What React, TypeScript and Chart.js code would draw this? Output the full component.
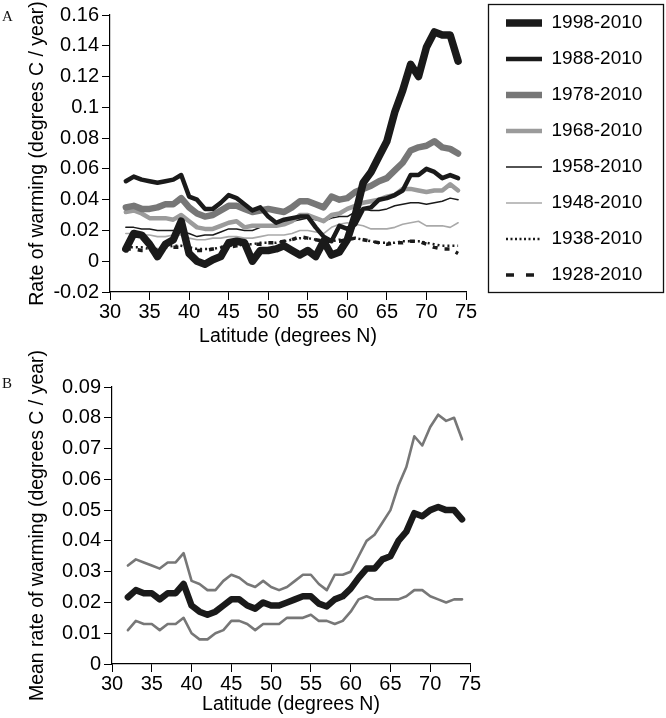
import React, { useEffect, useRef } from "react";
import { Chart, registerables } from "chart.js";

Chart.register(...registerables);

// ---------------- data ----------------
const latitudes = [
  32, 33, 34, 35, 36, 37, 38, 39, 40, 41,
  42, 43, 44, 45, 46, 47, 48, 49, 50, 51,
  52, 53, 54, 55, 56, 57, 58, 59, 60, 61,
  62, 63, 64, 65, 66, 67, 68, 69, 70, 71,
  72, 73, 74,
];

const seriesLabelsA = [
  "1998-2010", "1988-2010", "1978-2010", "1968-2010",
  "1958-2010", "1948-2010", "1938-2010", "1928-2010",
];

const rate1998 = [
  0.008, 0.018, 0.017, 0.011, 0.003, 0.011, 0.014, 0.026, 0.005, 0.000,
  -0.002, 0.001, 0.003, 0.012, 0.013, 0.012, 0.000, 0.007, 0.007, 0.008,
  0.010, 0.007, 0.004, 0.007, 0.003, 0.013, 0.004, 0.006, 0.014, 0.030,
  0.051, 0.058, 0.068, 0.078, 0.097, 0.111, 0.128, 0.120, 0.139, 0.149,
  0.147, 0.147, 0.130,
];
const rate1988 = [
  0.052, 0.055, 0.053, 0.052, 0.051, 0.052, 0.053, 0.056, 0.042, 0.040,
  0.034, 0.034, 0.038, 0.043, 0.041, 0.037, 0.033, 0.035, 0.029, 0.025,
  0.027, 0.028, 0.029, 0.029, 0.022, 0.016, 0.013, 0.023, 0.021, 0.024,
  0.034, 0.035, 0.040, 0.041, 0.043, 0.046, 0.056, 0.056, 0.060, 0.058,
  0.054, 0.056, 0.054,
];
const rate1978 = [
  0.035, 0.036, 0.034, 0.034, 0.035, 0.037, 0.037, 0.041, 0.035, 0.031,
  0.029, 0.030, 0.033, 0.036, 0.036, 0.034, 0.032, 0.033, 0.034, 0.033,
  0.032, 0.035, 0.039, 0.039, 0.037, 0.035, 0.042, 0.040, 0.041, 0.045,
  0.047, 0.049, 0.052, 0.054, 0.059, 0.064, 0.072, 0.074, 0.075, 0.078,
  0.074, 0.073, 0.070,
];
const rate1968 = [
  0.032, 0.033, 0.031, 0.028, 0.028, 0.028, 0.027, 0.030, 0.026, 0.022,
  0.021, 0.021, 0.023, 0.025, 0.026, 0.022, 0.023, 0.023, 0.023, 0.023,
  0.024, 0.026, 0.030, 0.030, 0.028, 0.026, 0.030, 0.031, 0.034, 0.036,
  0.038, 0.039, 0.040, 0.042, 0.043, 0.047, 0.047, 0.046, 0.045, 0.046,
  0.046, 0.050, 0.046,
];
const rate1958 = [
  0.022, 0.022, 0.021, 0.021, 0.020, 0.020, 0.020, 0.019, 0.018, 0.016,
  0.017, 0.017, 0.019, 0.021, 0.021, 0.020, 0.020, 0.022, 0.023, 0.023,
  0.024, 0.026, 0.027, 0.028, 0.027, 0.026, 0.028, 0.029, 0.029, 0.032,
  0.034, 0.033, 0.033, 0.034, 0.036, 0.037, 0.038, 0.038, 0.037, 0.038,
  0.039, 0.041, 0.040,
];
const rate1948 = [
  0.018, 0.018, 0.017, 0.017, 0.016, 0.016, 0.017, 0.017, 0.015, 0.014,
  0.014, 0.015, 0.015, 0.016, 0.016, 0.015, 0.015, 0.016, 0.017, 0.017,
  0.017, 0.018, 0.020, 0.020, 0.019, 0.018, 0.022, 0.024, 0.025, 0.024,
  0.023, 0.021, 0.021, 0.021, 0.022, 0.024, 0.025, 0.026, 0.023, 0.023,
  0.023, 0.022, 0.025,
];
const rate1938 = [
  0.009, 0.009, 0.009, 0.008, 0.008, 0.009, 0.010, 0.010, 0.009, 0.008,
  0.008, 0.008, 0.009, 0.010, 0.010, 0.011, 0.011, 0.012, 0.012, 0.012,
  0.013, 0.014, 0.015, 0.015, 0.014, 0.013, 0.013, 0.014, 0.014, 0.015,
  0.014, 0.013, 0.012, 0.012, 0.012, 0.013, 0.013, 0.013, 0.012, 0.011,
  0.010, 0.010, 0.010,
];
const rate1928 = [
  0.008, 0.008, 0.007, 0.007, 0.008, 0.009, 0.009, 0.009, 0.008, 0.007,
  0.007, 0.008, 0.009, 0.009, 0.010, 0.010, 0.011, 0.011, 0.012, 0.012,
  0.013, 0.014, 0.016, 0.015, 0.014, 0.013, 0.013, 0.013, 0.014, 0.015,
  0.014, 0.013, 0.012, 0.011, 0.012, 0.012, 0.013, 0.013, 0.011, 0.009,
  0.008, 0.008, 0.005,
];

const meanRate = [
  0.0217, 0.024, 0.023, 0.023, 0.021, 0.023, 0.023, 0.026, 0.019, 0.017,
  0.016, 0.017, 0.019, 0.021, 0.021, 0.019, 0.018, 0.020, 0.019, 0.019,
  0.020, 0.021, 0.022, 0.022, 0.0196, 0.0187, 0.021, 0.022, 0.0245, 0.028,
  0.031, 0.031, 0.034, 0.035, 0.040, 0.043, 0.049, 0.048, 0.050, 0.051,
  0.050, 0.050, 0.047,
];
const meanUpper = [
  0.032, 0.034, 0.033, 0.032, 0.031, 0.033, 0.033, 0.036, 0.027, 0.026,
  0.024, 0.024, 0.027, 0.029, 0.028, 0.026, 0.025, 0.027, 0.025, 0.024,
  0.025, 0.027, 0.029, 0.029, 0.026, 0.024, 0.029, 0.029, 0.030, 0.035,
  0.040, 0.042, 0.046, 0.050, 0.058, 0.064, 0.074, 0.071, 0.077, 0.081,
  0.079, 0.080, 0.073,
];
const meanLower = [
  0.011, 0.014, 0.013, 0.013, 0.011, 0.013, 0.013, 0.015, 0.010, 0.008,
  0.008, 0.010, 0.011, 0.014, 0.014, 0.013, 0.011, 0.013, 0.013, 0.013,
  0.015, 0.015, 0.015, 0.016, 0.014, 0.014, 0.013, 0.014, 0.017, 0.021,
  0.022, 0.021, 0.021, 0.021, 0.021, 0.022, 0.024, 0.024, 0.022, 0.021,
  0.020, 0.021, 0.021,
];

const xTicks = [30, 35, 40, 45, 50, 55, 60, 65, 70, 75];
const yTicksA = [-0.02, 0, 0.02, 0.04, 0.06, 0.08, 0.1, 0.12, 0.14, 0.16];
const yTicksB = [0, 0.01, 0.02, 0.03, 0.04, 0.05, 0.06, 0.07, 0.08, 0.09];

// ---------------- styles ----------------
const FONT_FAMILY = "'Liberation Sans', Arial, Helvetica, sans-serif";
const FONT = { family: FONT_FAMILY, size: 19 };
const TICK_FONT = { family: FONT_FAMILY, size: 20 };
const TITLE_FONT = { family: FONT_FAMILY, size: 19.5 };
const INK = "#1a1a1a";

const stylesA = [
  { color: INK, width: 7.5, dash: [] as number[], legendDash: [] as number[] },
  { color: INK, width: 4.5, dash: [] as number[], legendDash: [] as number[] },
  { color: "#777777", width: 6.5, dash: [] as number[], legendDash: [] as number[] },
  { color: "#9b9b9b", width: 4.5, dash: [] as number[], legendDash: [] as number[] },
  { color: INK, width: 1.5, dash: [] as number[], legendDash: [] as number[] },
  { color: "#a9a9a9", width: 1.6, dash: [] as number[], legendDash: [] as number[] },
  { color: INK, width: 2.5, dash: [2, 3], legendDash: [2, 2.5] },
  { color: INK, width: 3.5, dash: [5, 7], legendDash: [8, 12] },
];

const toPoints = (vals: number[]) => vals.map((v, i) => ({ x: latitudes[i], y: v }));
const fmtTick = (v: number | string) => String(parseFloat(Number(v).toFixed(2)));

const legendPlacement = {
  id: "legendPlacement",
  afterLayout(chart: any, _args: any, opts: any) {
    const lg = chart.legend;
    if (!lg || opts.itemX == null) return;
    const pad = lg.options.labels.padding;
    const dx = opts.itemX - (lg.left + pad);
    const dy = opts.firstTop - (lg.top + pad);
    lg.left += dx;
    lg.top += dy;
    lg.bottom += dy;
    lg.right = chart.width;
    lg.width = lg.right - lg.left;
  },
  afterDraw(chart: any, _args: any, opts: any) {
    if (!opts.box) return;
    const { ctx } = chart;
    const b = opts.box;
    ctx.save();
    ctx.strokeStyle = "#111";
    ctx.lineWidth = 1.3;
    ctx.strokeRect(b.x, b.y, b.w, b.h);
    ctx.restore();
  },
};

function axisOptions(opts: {
  yMin: number; yMax: number; yTicks: number[]; yTitle: string;
  yWidth: number; xHeight: number;
}) {
  return {
    x: {
      type: "linear" as const,
      min: 30,
      max: 75,
      afterBuildTicks: (s: any) => { s.ticks = xTicks.map((value) => ({ value })); },
      afterFit: (s: any) => { s.height = opts.xHeight; },
      grid: { drawOnChartArea: false, drawTicks: true, tickLength: 8, color: "#000", lineWidth: 1 },
      border: { display: true, color: "#000", width: 1.2 },
      ticks: { color: "#000", font: TICK_FONT, padding: 0, maxRotation: 0, autoSkip: false },
      title: {
        display: true, text: "Latitude (degrees N)", color: "#000", font: TITLE_FONT,
        padding: { top: 0, bottom: 2 },
      },
    },
    y: {
      type: "linear" as const,
      min: opts.yMin,
      max: opts.yMax,
      afterBuildTicks: (s: any) => { s.ticks = opts.yTicks.map((value) => ({ value })); },
      afterFit: (s: any) => { s.width = opts.yWidth; },
      grid: { drawOnChartArea: false, drawTicks: true, tickLength: 8, color: "#000", lineWidth: 1 },
      border: { display: true, color: "#000", width: 1.2 },
      ticks: { color: "#000", font: TICK_FONT, padding: 3, callback: (v: any) => fmtTick(v) },
      title: {
        display: true, text: opts.yTitle, color: "#000", font: TITLE_FONT,
        padding: { top: 26, bottom: 0 },
      },
    },
  };
}

export default function App() {
  const refA = useRef<HTMLCanvasElement | null>(null);
  const refB = useRef<HTMLCanvasElement | null>(null);

  useEffect(() => {
    const seriesA = [rate1998, rate1988, rate1978, rate1968, rate1958, rate1948, rate1938, rate1928];
    const chartA = new Chart(refA.current as HTMLCanvasElement, {
      type: "line",
      data: {
        datasets: seriesA.map((vals, i) => ({
          label: seriesLabelsA[i],
          data: toPoints(vals),
          borderColor: stylesA[i].color,
          backgroundColor: stylesA[i].color,
          borderWidth: stylesA[i].width,
          borderDash: stylesA[i].dash,
          borderCapStyle: stylesA[i].dash.length ? "butt" : "round",
          borderJoinStyle: "round",
          pointRadius: 0,
          tension: 0,
          fill: false,
        })),
      },
      options: {
        animation: false,
        responsive: false,
        events: [],
        layout: { padding: { left: 0, top: 15, right: 50, bottom: 0 } },
        plugins: {
          legend: {
            display: true,
            position: "right",
            align: "start",
            maxWidth: 150,
            labels: {
              usePointStyle: true,
              pointStyle: "line",
              pointStyleWidth: 36,
              padding: 17,
              color: "#000",
              font: FONT,
              generateLabels: (chart: any) => {
                const items = (Chart.defaults.plugins.legend.labels as any).generateLabels(chart);
                items.forEach((it: any) => {
                  const st = stylesA[it.datasetIndex];
                  it.lineDash = st.legendDash;
                  it.lineWidth = st.width;
                  it.strokeStyle = st.color;
                  it.lineCap = "butt";
                  it.pointStyle = "line";
                });
                return items;
              },
            },
          },
          tooltip: { enabled: false },
          legendPlacement: { itemX: 506, firstTop: 13.5, box: { x: 488.5, y: 4.5, w: 175, h: 288 } },
        } as any,
        scales: axisOptions({
          yMin: -0.02, yMax: 0.16, yTicks: yTicksA,
          yTitle: "Rate of warming (degrees C / year)", yWidth: 110, xHeight: 58,
        }),
      } as any,
      plugins: [legendPlacement],
    });

    const seriesB = [meanRate, meanUpper, meanLower];
    const stylesB = [
      { color: INK, width: 6.5 },
      { color: "#777777", width: 2.6 },
      { color: "#777777", width: 2.6 },
    ];
    const chartB = new Chart(refB.current as HTMLCanvasElement, {
      type: "line",
      data: {
        datasets: seriesB.map((vals, i) => ({
          label: ["Mean", "Upper", "Lower"][i],
          data: toPoints(vals),
          borderColor: stylesB[i].color,
          backgroundColor: stylesB[i].color,
          borderWidth: stylesB[i].width,
          borderCapStyle: "round",
          borderJoinStyle: "round",
          pointRadius: 0,
          tension: 0,
          fill: false,
        })),
      },
      options: {
        animation: false,
        responsive: false,
        events: [],
        layout: { padding: { left: 0, top: 47, right: 196, bottom: 0 } },
        plugins: { legend: { display: false }, tooltip: { enabled: false } },
        scales: axisOptions({
          yMin: 0, yMax: 0.09, yTicks: yTicksB,
          yTitle: "Mean rate of warming (degrees C / year)", yWidth: 112, xHeight: 54,
        }),
      } as any,
    });

    return () => {
      chartA.destroy();
      chartB.destroy();
    };
  }, []);

  const panelLabel: React.CSSProperties = {
    position: "absolute",
    left: 2,
    fontFamily: "'Liberation Serif', 'DejaVu Serif', serif",
    fontSize: 15,
    lineHeight: "15px",
    color: "#111",
  };

  return (
    <div style={{ position: "absolute", left: 0, top: 0, width: 666, height: 718, background: "#fff" }}>
      <canvas
        ref={refA}
        width={666}
        height={350}
        style={{ position: "absolute", left: 0, top: 0, width: 666, height: 350 }}
      />
      <canvas
        ref={refB}
        width={666}
        height={378}
        style={{ position: "absolute", left: 0, top: 340, width: 666, height: 378 }}
      />
      <div style={{ ...panelLabel, top: 9 }}>A</div>
      <div style={{ ...panelLabel, top: 376 }}>B</div>
    </div>
  );
}
